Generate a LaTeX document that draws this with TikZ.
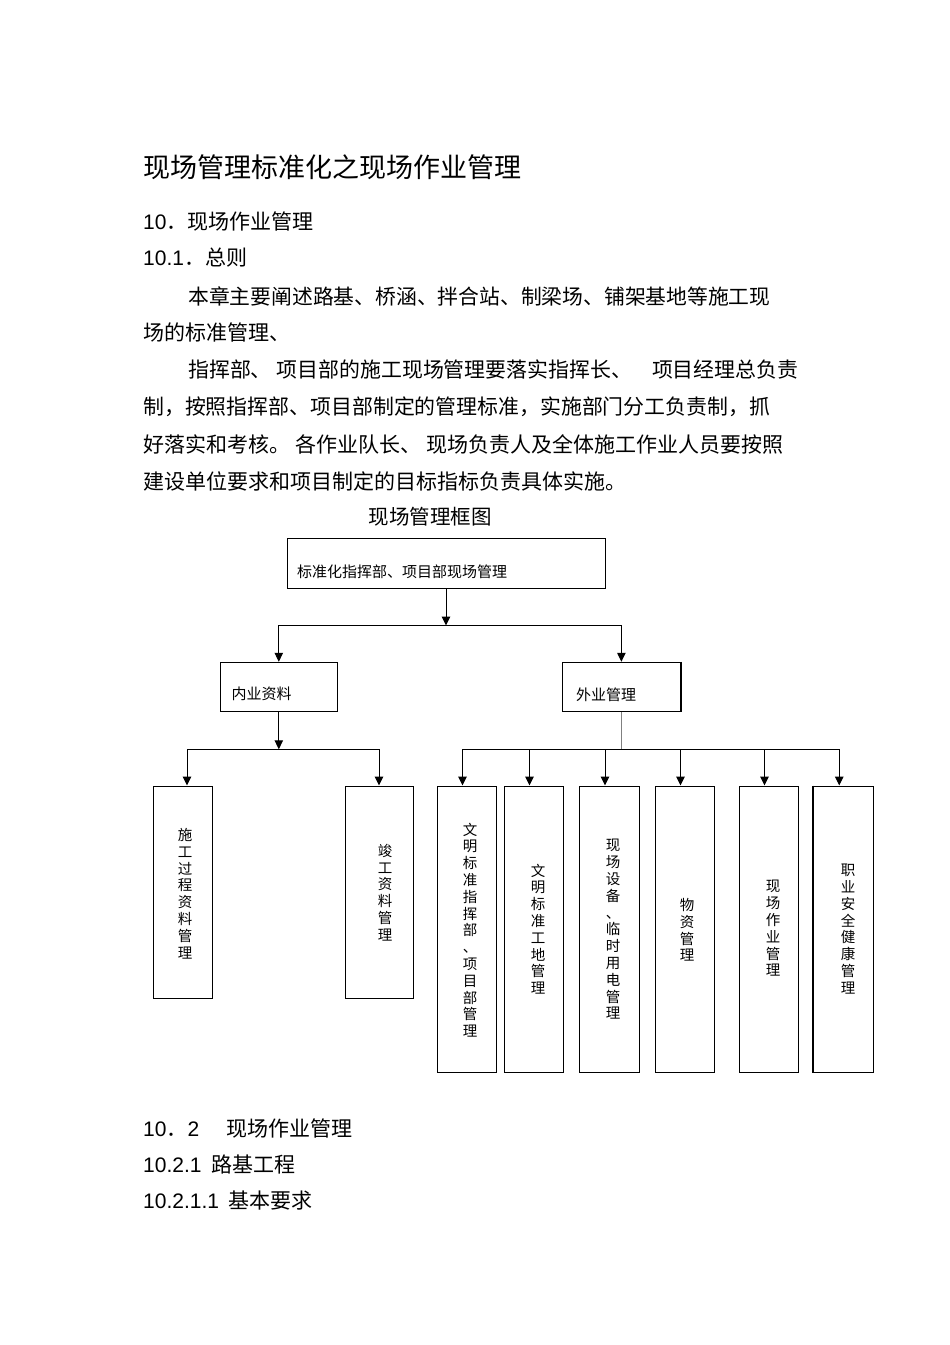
\documentclass[tikz,border=0pt]{standalone}
\usepackage{fontspec}
\setmainfont{Noto Sans CJK SC}
\newfontfamily\arial{Liberation Sans}
\usetikzlibrary{arrows.meta,positioning}
\tikzset{
	txt/.style={anchor=west,inner sep=0pt,font=\fontsize{#1}{#1}\selectfont},
	txt/.default=21,
	box/.style={draw,line width=1pt,inner sep=0pt},
	hbox/.style={box,minimum width=117.5pt,minimum height=49.5pt},
	sbox/.style={box,minimum width=59pt,minimum height=212pt},
	lbox/.style={box,minimum width=59pt,minimum height=286pt},
	lab/.style={anchor=west,inner sep=0pt,font=\fontsize{15}{15}\selectfont},
	vlab/.style={inner sep=0pt,align=center,font=\fontsize{14.5}{16.8}\selectfont},
	arr/.style={line width=1pt,-{Triangle[length=9pt,width=8.5pt]}},
	link/.style={line width=0.8pt,gray}
}
\begin{document}
\begin{tikzpicture}[x=1pt,y=-1pt]
		\fill[white] (0,0) rectangle (950,1345);
		\useasboundingbox (0,0) rectangle (950,1345);
		% page text
		\node[txt=27] (title) at (143,167){现场管理标准化之现场作业管理};
		\node[txt] (h10) at (143,222){{\arial 10}．现场作业管理};
		\node[txt] (h101) at (143,258){{\arial 10.1}．总则};
		\node[txt=20.8] (p1) at (188,296){本章主要阐述路基、桥涵、拌合站、制梁场、铺架基地等施工现};
		\node[txt] (p2) at (143,332){场的标准管理、};
		\node[txt=20.9] (p3) at (188,370){指挥部、\hspace{5pt}项目部的施工现场管理要落实指挥长、\hspace{20pt}项目经理总负责};
		\node[txt=20.9] (p4) at (143,407){制，按照指挥部、项目部制定的管理标准，实施部门分工负责制，抓};
		\node[txt] (p5) at (143,444){好落实和考核。\hspace{5pt}各作业队长、\hspace{5pt}现场负责人及全体施工作业人员要按照};
		\node[txt] (p6) at (143,481){建设单位要求和项目制定的目标指标负责具体实施。};
		\node[txt] (h102) at (143,1128){{\arial 10}．{\arial 2}\hspace{27pt}现场作业管理};
		\node[txt] (h1021) at (143,1164){{\arial 10.2.1}\hspace{10pt}路基工程};
		\node[txt] (h10211) at (143,1201){{\arial 10.2.1.1}\hspace{9pt}基本要求};
		% chart
		\node[inner sep=0pt,font=\fontsize{20.5}{20.5}\selectfont] (ctitle) at (430,517){现场管理框图};
		\node[box, minimum width=318pt, minimum height=50pt] (top) at (446,563){};
		\node[lab] (topt) at (297,571.5){标准化指挥部、项目部现场管理};
		\node[hbox] (nei) at (278.8,687){};
		\node[lab] (neit) at (231.5,694){内业资料};
		\node[hbox] (wai) at (621.4,687){};
		\node[lab] (wait) at (576,695){外业管理};
		\draw[line width=2pt] (wai.north east) -- (wai.south east);
		% inner branch
		\node[sbox] (sg) at (182.5,892){};
		\node[vlab] (sgt) at (185,893.5){施\\工\\过\\程\\资\\料\\管\\理};
		\node[sbox, minimum width=68pt] (jg) at (379,892){};
		\node[vlab] (jgt) at (385,892.5){竣\\工\\资\\料\\管\\理};
		% outer branch
		\node[lbox] (w1) at (466.5,929){};
		\node[vlab] (w1t) at (470,930){文\\明\\标\\准\\指\\挥\\部\\、\\项\\目\\部\\管\\理};
		\node[lbox] (w2) at (533.5,929){};
		\node[vlab] (w2t) at (538,929){文\\明\\标\\准\\工\\地\\管\\理};
		\node[lbox, minimum width=60pt] (w3) at (609,929){};
		\node[vlab] (w3t) at (613,929.5){现\\场\\设\\备\\、\\临\\时\\用\\电\\管\\理};
		\node[lbox] (w4) at (684.5,929){};
		\node[vlab] (w4t) at (687,930){物\\资\\管\\理};
		\node[lbox] (w5) at (768.5,929){};
		\node[vlab] (w5t) at (773,928.5){现\\场\\作\\业\\管\\理};
		\node[lbox, minimum width=59.5pt] (w6) at (843.25,929){};
		\node[vlab] (w6t) at (848,929){职\\业\\安\\全\\健\\康\\管\\理};
		\draw[line width=2pt] (w6.north west) -- (w6.south west);
		% connectors
		\path (top.south) ++(0,37) coordinate (c1);
		\path (nei.south) ++(0,37) coordinate (c2);
		\path (wai.south) ++(0,37) coordinate (c3);
		\draw[arr] (top) -- (c1);
		\draw[arr] (c1) -| (nei);
		\draw[arr] (c1) -| (wai);
		\draw[arr] (nei) -- (c2);
		\draw[arr] (c2) -| ([xshift=4.5pt]sg.north);
		\draw[arr] (c2) -| (jg);
		\draw[link] (wai) -- (c3);
		\foreach \b in {w1,w2,w3,w4,w5,w6}
			\draw[arr] (c3) -| ([xshift=-4pt]\b.north);
\end{tikzpicture}
\end{document}
